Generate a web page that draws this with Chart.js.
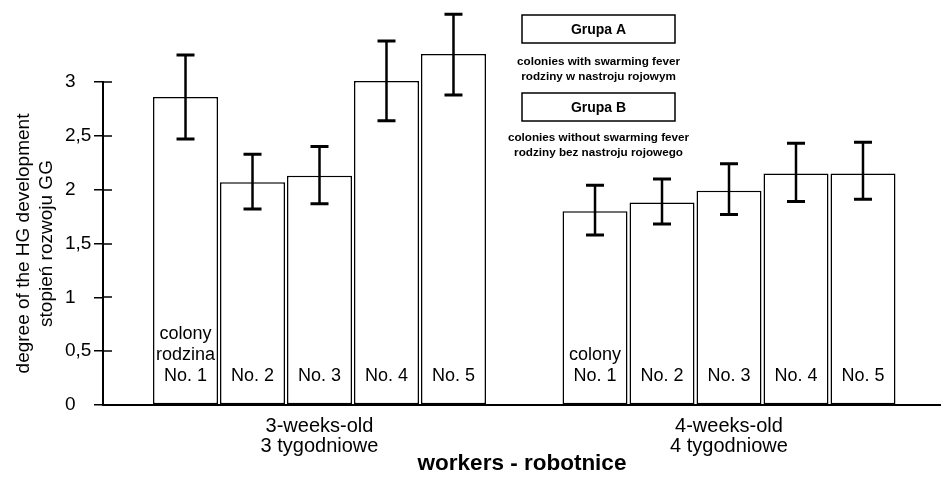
<!DOCTYPE html>
<html><head><meta charset="utf-8">
<script src="https://cdn.jsdelivr.net/npm/chart.js@4"></script>
<style>html,body{margin:0;padding:0;background:#fff;} #c{display:block;}</style>
</head><body>
<canvas id="c" width="941" height="477"></canvas>
<script>
// ---- data ----
const groupLabels = [['3-weeks-old', '3 tygodniowe'], ['4-weeks-old', '4 tygodniowe']];
const groupIdx = [0, 1];
const colonies = ['No. 1', 'No. 2', 'No. 3', 'No. 4', 'No. 5'];
const mean3w  = [2.86, 2.07, 2.13, 3.01, 3.26];
const errHi3w = [3.25, 2.33, 2.40, 3.38, 3.63];
const errLo3w = [2.47, 1.82, 1.87, 2.64, 2.88];
const mean4w  = [1.80, 1.88, 1.99, 2.15, 2.15];
const errHi4w = [2.04, 2.10, 2.24, 2.43, 2.44];
const errLo4w = [1.58, 1.68, 1.77, 1.89, 1.91];
const barText3w = [['colony', 'rodzina', 'No. 1'], ['No. 2'], ['No. 3'], ['No. 4'], ['No. 5']];
const barText4w = [['colony', 'No. 1'], ['No. 2'], ['No. 3'], ['No. 4'], ['No. 5']];
const legendTitles = ['Grupa A', 'Grupa B'];
const legendNotes = [['colonies with swarming fever', 'rodziny w nastroju rojowym'],
                     ['colonies without swarming fever', 'rodziny bez nastroju rojowego']];
const yTitle = ['degree of the HG development', 'stopień rozwoju GG'];
const xTitle = 'workers - robotnice';

const FONT = "'Liberation Sans', Arial, Helvetica, sans-serif";
Chart.defaults.color = '#000';
Chart.defaults.font.family = FONT;

const datasets = colonies.map((name, k) => ({
  label: name,
  xAxisID: 'x',
  yAxisID: 'y',
  data: groupIdx.map((g, j) => ({ x: g, y: [mean3w, mean4w][j][k] })),
  errHi: [errHi3w[k], errHi4w[k]],
  errLo: [errLo3w[k], errLo4w[k]],
  barText: [barText3w[k], barText4w[k]],
  backgroundColor: '#fff',
  borderColor: '#000',
  borderWidth: 1.5,
  borderSkipped: false,
  categoryPercentage: 0.818,
  barPercentage: 0.97,
  clip: false
}));

const overlay = {
  id: 'overlay',
  afterDatasetsDraw(chart) {
    const ctx = chart.ctx, ys = chart.scales.y;
    ctx.save();
    chart.data.datasets.forEach((ds, k) => {
      const meta = chart.getDatasetMeta(k);
      meta.data.forEach((bar, j) => {
        const x = bar.x;
        const yh = ys.getPixelForValue(ds.errHi[j]);
        const yl = ys.getPixelForValue(ds.errLo[j]);
        ctx.strokeStyle = '#000';
        ctx.lineWidth = 2.5;
        ctx.beginPath(); ctx.moveTo(x, yh); ctx.lineTo(x, yl); ctx.stroke();
        ctx.lineWidth = 3;
        ctx.beginPath();
        ctx.moveTo(x - 9, yh); ctx.lineTo(x + 9, yh);
        ctx.moveTo(x - 9, yl); ctx.lineTo(x + 9, yl);
        ctx.stroke();
        const lines = ds.barText[j];
        ctx.font = '18px ' + FONT;
        ctx.fillStyle = '#000';
        ctx.textAlign = 'center';
        ctx.textBaseline = 'middle';
        const base = ys.getPixelForValue(0) - 29;
        lines.forEach((t, i) => ctx.fillText(t, x, base - (lines.length - 1 - i) * 21));
      });
    });
    ctx.restore();
  },
  afterDraw(chart) {
    const ctx = chart.ctx, ys = chart.scales.y, area = chart.chartArea;
    ctx.save();
    ctx.strokeStyle = '#000';
    ctx.lineWidth = 1.5;
    ys.ticks.forEach(t => {
      const py = Math.round(ys.getPixelForValue(t.value));
      ctx.beginPath(); ctx.moveTo(area.left, py); ctx.lineTo(area.left + 9, py); ctx.stroke();
    });
    // legend-like boxes
    const bx = 522, bw = 153, bh = 28, boxTops = [15, 93], noteY = [[62, 77], [138, 153]];
    ctx.fillStyle = '#000';
    ctx.textAlign = 'center';
    ctx.textBaseline = 'middle';
    legendTitles.forEach((t, i) => {
      ctx.lineWidth = 1.5;
      ctx.strokeRect(bx, boxTops[i], bw, bh);
      ctx.font = 'bold 14px ' + FONT;
      ctx.fillText(t, bx + bw / 2, boxTops[i] + bh / 2 + 1);
      ctx.font = 'bold 11.7px ' + FONT;
      legendNotes[i].forEach((n, m) => ctx.fillText(n, bx + bw / 2, noteY[i][m]));
    });
    ctx.restore();
  }
};

new Chart(document.getElementById('c'), {
  type: 'bar',
  data: { datasets },
  plugins: [overlay],
  options: {
    responsive: false,
    animation: false,
    events: [],
    layout: { padding: { top: 82, left: 0, right: 0, bottom: 0 } },
    plugins: { legend: { display: false }, tooltip: { enabled: false } },
    scales: {
      x: {
        type: 'linear',
        offset: false,
        min: -0.5287,
        max: 1.5177,
        afterBuildTicks: s => { s.ticks = groupIdx.map(v => ({ value: v })); },
        afterFit: s => { s.height = 72; },
        grid: { display: false, drawTicks: false, offset: false },
        border: { display: true, color: '#000', width: 2 },
        ticks: {
          callback: v => groupLabels[v],
          font: { size: 20, lineHeight: 1.0 },
          padding: 11,
          maxRotation: 0,
          autoSkip: false
        },
        title: {
          display: true,
          text: xTitle,
          font: { size: 22.5, weight: 'bold', lineHeight: 1.2 },
          padding: { top: 0, bottom: 0 }
        }
      },
      yTitleAxis: {
        type: 'linear',
        position: 'left',
        weight: 1,
        display: true,
        afterFit: s => { s.width = 65; },
        grid: { display: false, drawTicks: false },
        border: { display: false },
        ticks: { display: false },
        title: {
          display: true,
          text: yTitle,
          font: { size: 19, lineHeight: 1.2 },
          padding: { top: 12.5, bottom: 0 }
        }
      },
      y: {
        position: 'left',
        weight: 0,
        min: 0,
        max: 3,
        afterFit: s => { s.width = 38; },
        grid: { drawOnChartArea: false, drawTicks: true, tickLength: 9, color: '#000', lineWidth: 1.5 },
        border: { display: true, color: '#000', width: 2 },
        ticks: {
          stepSize: 0.5,
          crossAlign: 'far',
          padding: 3,
          font: { size: 19 },
          callback: v => String(v).replace('.', ',')
        }
      }
    }
  }
});
</script>
</body></html>
